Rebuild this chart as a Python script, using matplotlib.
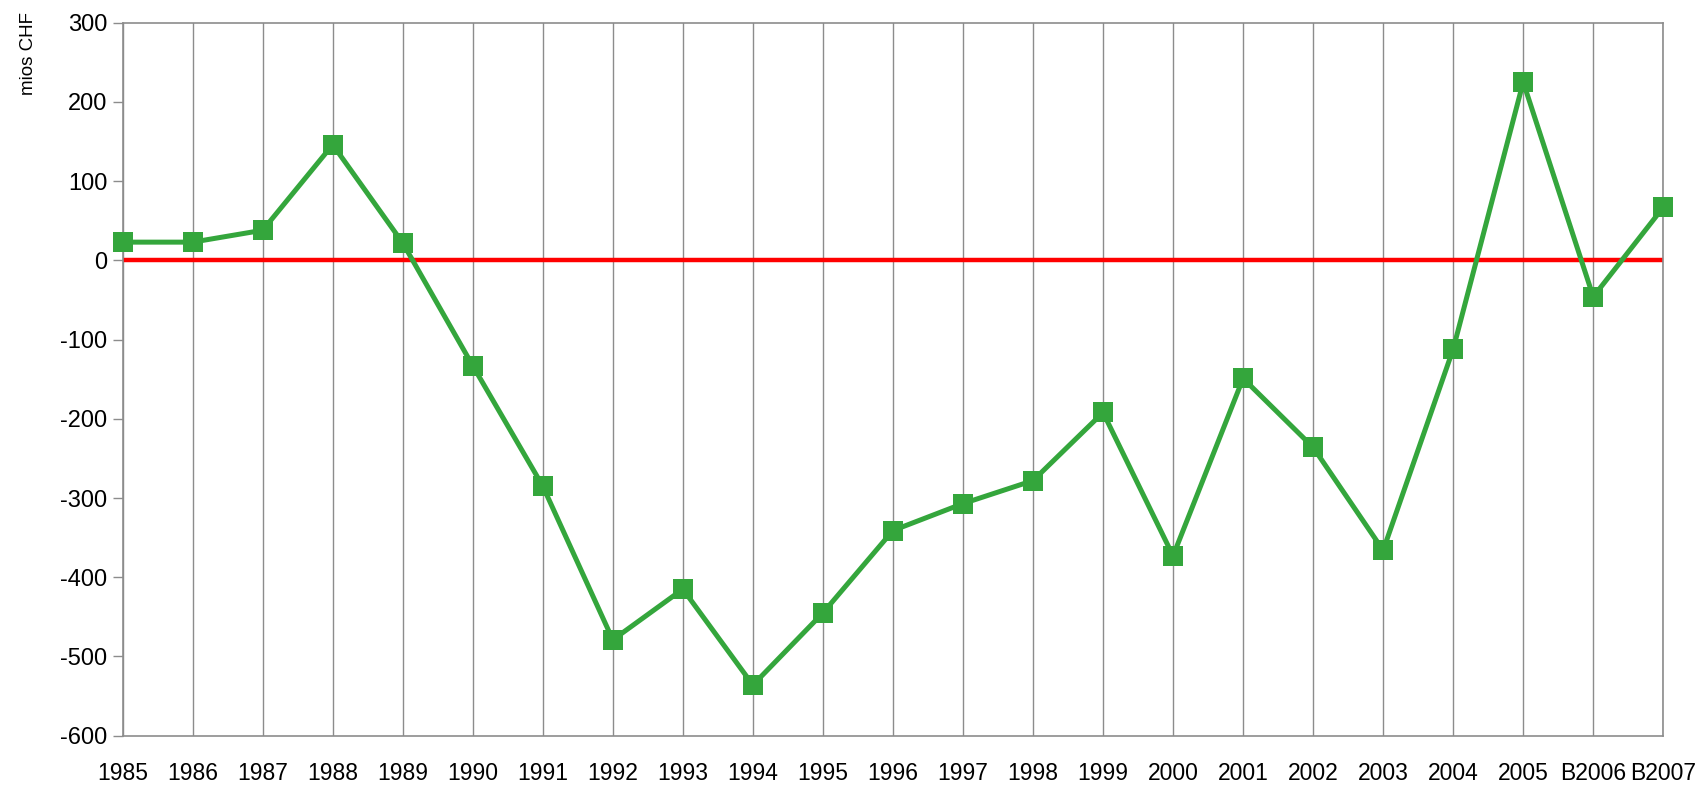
import matplotlib.pyplot as plt

years = ["1985", "1986", "1987", "1988", "1989", "1990", "1991", "1992",
         "1993", "1994", "1995", "1996", "1997", "1998", "1999", "2000",
         "2001", "2002", "2003", "2004", "2005", "B2006", "B2007"]
values = [23, 23, 38, 146, 22, -133, -285, -479, -415, -536, -445, -341,
          -307, -278, -192, -373, -149, -236, -366, -112, 225, -46, 67]
zero_line = [0] * len(years)

plt.rcParams["font.family"] = ["Liberation Sans", "DejaVu Sans"]
plt.rcParams["axes.unicode_minus"] = False

fig = plt.figure(figsize=(16.96, 7.85), dpi=100)
ax = fig.add_axes([0.0723, 0.0628, 0.9084, 0.9083])

x = list(range(len(years)))

ax.plot(x, zero_line, color="#ff0000", lw=3.2, zorder=2, solid_capstyle="butt")
ax.plot(x, values, color="#34a63c", lw=3.6, marker="s", markersize=14,
        markeredgewidth=0, zorder=3, clip_on=False)

ax.set_xlim(0, len(years) - 1)
ax.set_ylim(-600, 300)
ax.set_yticks(range(-600, 301, 100))
ax.set_xticks(x)
ax.set_xticklabels(years)

ax.grid(axis="x", color="#8c8c8c", lw=1)
ax.grid(axis="y", visible=False)
ax.set_axisbelow(True)

for s in ax.spines.values():
    s.set_color("#8c8c8c")
    s.set_linewidth(1.2)

ax.tick_params(axis="y", length=7, width=1, color="#8c8c8c", labelsize=17, pad=4)
ax.tick_params(axis="x", length=0, labelsize=16.5, pad=19)

fig.text(0.017, 0.985, "mios CHF", rotation=90, ha="center", va="top", fontsize=13.5)

fig.savefig("out.png", dpi=100)
